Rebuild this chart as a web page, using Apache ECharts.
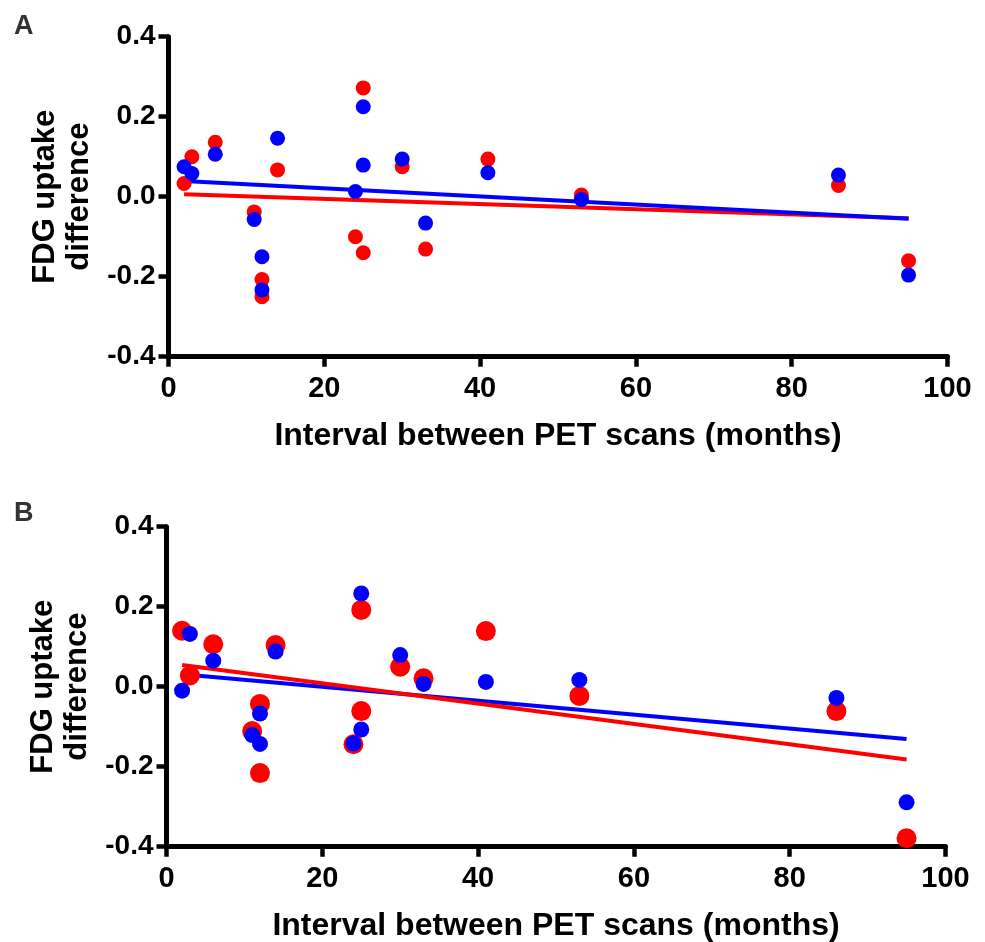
<!DOCTYPE html>
<html>
<head>
<meta charset="utf-8">
<script src="https://cdn.jsdelivr.net/npm/echarts@6/dist/echarts.min.js"></script>
<style>
	html, body { margin: 0; padding: 0; background: #fff; }
	#PetChart { width: 985px; height: 942px; }
</style>
</head>
<body>
<div id="PetChart"></div>
<script>
	// months between the two PET scans (same patients in both panels)
	var months = [2, 3, 6, 11, 12, 12, 14, 24, 25, 25, 30, 33, 41, 53, 86, 95]

	// panel A
	var a_red = [0.033, 0.100, 0.136, -0.038, -0.207, -0.250, 0.067, -0.100, 0.272, -0.140, 0.075, -0.131, 0.094, 0.004, 0.028, -0.160]
	var a_blue = [0.075, 0.058, 0.106, -0.057, -0.150, -0.233, 0.146, 0.013, 0.225, 0.079, 0.094, -0.066, 0.060, -0.007, 0.054, -0.196]

	// panel B
	var b_red = [0.140, 0.028, 0.106, -0.111, -0.043, -0.216, 0.104, -0.144, 0.192, -0.061, 0.050, 0.021, 0.139, -0.023, -0.061, -0.379]
	var b_blue = [-0.010, 0.132, 0.065, -0.121, -0.067, -0.143, 0.088, -0.142, 0.233, -0.107, 0.079, 0.007, 0.012, 0.017, -0.028, -0.289]

	// regression line ends
	var fit_months = [2, 95]
	var a_red_fit = [0.006, -0.054]
	var a_blue_fit = [0.039, -0.055]
	var b_red_fit = [0.054, -0.182]
	var b_blue_fit = [0.031, -0.131]

	var x_ticks = [0, 20, 40, 60, 80, 100]
	var y_ticks = [-0.4, -0.2, 0.0, 0.2, 0.4]

	var font = 'Liberation Sans, Arial, Helvetica, sans-serif'

	function pairs(xs, ys) {
		return xs.map(function (x, i) { return [x, ys[i]] })
	}

	function xAxisFor(idx) {
		return {
			gridIndex: idx,
			type: 'value',
			min: x_ticks[0],
			max: x_ticks[x_ticks.length - 1],
			interval: x_ticks[1] - x_ticks[0],
			name: 'Interval between PET scans (months)',
			nameLocation: 'middle',
			nameGap: 63,
			nameTextStyle: { color: '#000', fontFamily: font, fontWeight: 'bold', fontSize: 32 },
			axisLine: { show: true, onZero: false, lineStyle: { color: '#000', width: 5 } },
			axisTick: { show: true, length: 10, lineStyle: { color: '#000', width: 4.5 } },
			axisLabel: { margin: 18, color: '#000', fontFamily: font, fontWeight: 'bold', fontSize: 29 },
			splitLine: { show: false }
		}
	}

	function yAxisFor(idx) {
		return {
			gridIndex: idx,
			type: 'value',
			min: y_ticks[0],
			max: y_ticks[y_ticks.length - 1],
			interval: 0.2,
			name: 'FDG uptake\ndifference',
			nameLocation: 'middle',
			nameRotate: 90,
			nameGap: 72,
			nameTextStyle: { color: '#000', fontFamily: font, fontWeight: 'bold', fontSize: 31, lineHeight: 34 },
			axisLine: { show: true, onZero: false, lineStyle: { color: '#000', width: 5 } },
			axisTick: { show: true, length: 10, lineStyle: { color: '#000', width: 4.5 } },
			axisLabel: {
				margin: 13, color: '#000', fontFamily: font, fontWeight: 'bold', fontSize: 28,
				formatter: function (v) { return v.toFixed(1) }
			},
			splitLine: { show: false }
		}
	}

	function fitLine(idx, ys, color) {
		return {
			type: 'line', xAxisIndex: idx, yAxisIndex: idx,
			data: pairs(fit_months, ys),
			symbol: 'none', silent: true, z: 1,
			lineStyle: { color: color, width: 4 }
		}
	}

	function dots(idx, ys, color, size, z) {
		return {
			type: 'scatter', xAxisIndex: idx, yAxisIndex: idx,
			data: pairs(months, ys),
			symbol: 'circle', symbolSize: size, clip: false, z: z,
			itemStyle: { color: color, opacity: 1 }
		}
	}

	var chart_option = {
		animation: false,
		backgroundColor: '#fff',
		title: [
			{ text: 'A', left: 14, top: 13, padding: 0, textStyle: { color: '#333', fontFamily: font, fontWeight: 'bold', fontSize: 27 } },
			{ text: 'B', left: 14, top: 500, padding: 0, textStyle: { color: '#333', fontFamily: font, fontWeight: 'bold', fontSize: 27 } }
		],
		grid: [
			{ left: 168.5, top: 36.7, width: 779, height: 320, outerBoundsMode: 'none' },
			{ left: 166.5, top: 526.7, width: 779, height: 320, outerBoundsMode: 'none' }
		],
		xAxis: [xAxisFor(0), xAxisFor(1)],
		yAxis: [yAxisFor(0), yAxisFor(1)],
		series: [
			fitLine(0, a_red_fit, '#ff0000'),
			fitLine(0, a_blue_fit, '#0000ff'),
			dots(0, a_red, '#ff0000', 15, 2),
			dots(0, a_blue, '#0000ff', 15, 3),

			fitLine(1, b_blue_fit, '#0000ff'),
			fitLine(1, b_red_fit, '#ff0000'),
			dots(1, b_red, '#ff0000', 20, 2),
			dots(1, b_blue, '#0000ff', 16, 3)
		]
	}

	var PetChart = echarts.init(document.getElementById('PetChart'))
	PetChart.setOption(chart_option, true)
</script>
</body>
</html>
